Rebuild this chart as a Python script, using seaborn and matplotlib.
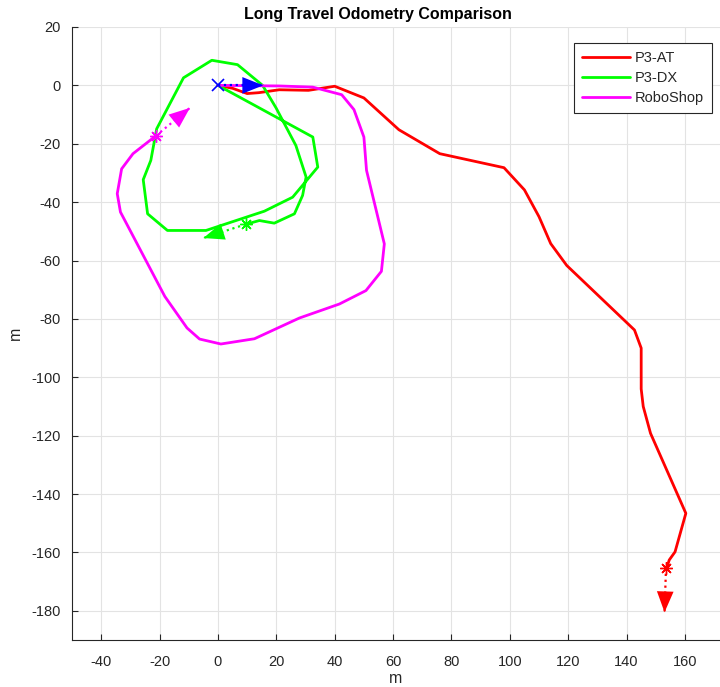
import matplotlib
matplotlib.use("Agg")
import matplotlib.pyplot as plt
import seaborn as sns
import pandas as pd

# ---------------- data ----------------
robots = ["P3-AT", "P3-DX", "RoboShop"]
colors = ["#ff0000", "#00ff00", "#ff00ff"]

p3at_x = [0, 5, 10, 14, 21, 31, 40, 50, 62, 76, 98, 105, 110, 114, 119.5,
          142.7, 145, 145, 145.7, 148.2, 160.3, 156.6, 154.6, 153.9]
p3at_y = [0, -1, -2.8, -2.5, -1.5, -1.7, -0.3, -4.3, -15.2, -23.4, -28.2, -35.8,
          -45, -54.2, -61.7, -83.8, -90, -104, -110, -119.2, -146.6, -159.8,
          -162.6, -164.9]

p3dx_x = [0, 32.5, 34.2, 25.6, 15.9, -4.1, -17.3, -24.1, -25.6, -23, -21,
          -11.8, -2.1, 6.7, 15.3, 19.9, 26.7, 30.2, 29, 26.2, 19.3, 14.2, 9.5]
p3dx_y = [0, -17.7, -28, -38.3, -43.1, -49.7, -49.7, -44, -32.3, -25.7, -14.9,
          2.6, 8.6, 7.1, 0, -7.7, -20.6, -31.4, -37.7, -44, -47.2, -46.3, -47.6]

robo_x = [0, 21, 32.5, 42.4, 46.6, 50, 50.9, 57, 56, 50.7, 41.6, 27.9, 12.5,
          1, -6.3, -10.6, -18.2, -33.4, -34.5, -33, -29.1, -21.3]
robo_y = [0, -0.2, -0.6, -3.2, -8.3, -17.7, -29.1, -54.3, -63.7, -70.3, -74.9,
          -79.7, -86.8, -88.6, -86.9, -83.1, -72.3, -43.4, -37.1, -28.6, -23.4,
          -17.3]

# heading arrows (start point -> tip)
arrow_x0 = [0, 9.5, -21.3, 153.5]
arrow_y0 = [0, -47.6, -17.3, -165.3]
arrow_x1 = [15.5, -5.0, -9.6, 153.0]
arrow_y1 = [0, -52.3, -7.7, -180.5]
arrow_colors = ["#0000ff", "#00ff00", "#ff00ff", "#ff0000"]
arrow_markers = ["x", "*", "*", "*"]

xticks = list(range(-40, 161, 20))
yticks = list(range(-180, 21, 20))

# ---------------- frame ----------------
frames = []
for name, xs, ys in zip(robots, [p3at_x, p3dx_x, robo_x], [p3at_y, p3dx_y, robo_y]):
    frames.append(pd.DataFrame({"x": xs, "y": ys, "robot": name, "order": range(len(xs))}))
df = pd.concat(frames, ignore_index=True)

sns.set_theme(style="white")
plt.rcParams["font.family"] = ["Liberation Sans", "DejaVu Sans"]

fig = plt.figure(figsize=(7.2, 6.87), dpi=100)
ax = fig.add_axes([72 / 720, 47 / 687, 648 / 720, 613 / 687])

sns.lineplot(data=df, x="x", y="y", hue="robot", palette=dict(zip(robots, colors)),
             sort=False, estimator=None, linewidth=2, ax=ax, zorder=3)

# arrows
for x0, y0, x1, y1, c, m in zip(arrow_x0, arrow_y0, arrow_x1, arrow_y1, arrow_colors, arrow_markers):
    ax.plot([x0, x1], [y0, y1], linestyle=":", color=c, lw=1.6, zorder=4)
    ax.annotate("", xy=(x1, y1), xytext=(x0, y0),
                arrowprops=dict(arrowstyle="-|>,head_length=1.25,head_width=0.5",
                                color=c, lw=0, shrinkA=0, shrinkB=0), zorder=5)
    if m == "x":
        ax.plot([x0], [y0], marker="x", color=c, markersize=8, mew=1.2, zorder=6)
    else:
        ax.plot([x0], [y0], marker=(8, 2, 0), color=c, markersize=9, mew=1.0, zorder=6)

ax.set_xlim(-50, 172)
ax.set_ylim(-190, 20)
ax.set_xticks(xticks)
ax.set_yticks(yticks)
ax.set_xticklabels([str(v) for v in xticks])
ax.set_yticklabels([str(v) for v in yticks])

ax.grid(True, color="#e3e3e3", linewidth=0.8)
ax.set_axisbelow(True)
for s in ["top", "right"]:
    ax.spines[s].set_visible(False)
for s in ["left", "bottom"]:
    ax.spines[s].set_color("#262626")
    ax.spines[s].set_linewidth(0.8)

ax.tick_params(axis="both", direction="in", length=4, width=0.8, colors="#262626",
               labelsize=10.5, left=True, bottom=True, labelcolor="#262626")
ax.tick_params(axis="x", pad=11)
ax.tick_params(axis="y", pad=8)

ax.set_xlabel("m", fontsize=11.5, color="#262626", labelpad=1)
ax.set_ylabel("m", fontsize=11.5, color="#262626", labelpad=6)
ax.set_title("Long Travel Odometry Comparison", fontsize=11.5, fontweight="bold",
             x=(378 - 72) / 648, pad=6, color="black")

sns.move_legend(ax, "upper right", bbox_to_anchor=((712 - 72) / 648, (640 - 43) / 613),
                borderaxespad=0, title=None, fontsize=10.5, frameon=True, fancybox=False,
                edgecolor="#262626", framealpha=1, handlelength=3.3, handletextpad=0.3,
                labelspacing=0.4, borderpad=0.55)
leg = ax.get_legend()
leg.get_frame().set_linewidth(0.8)
for line in leg.get_lines():
    line.set_linewidth(2)

fig.savefig("out.png", dpi=100)
